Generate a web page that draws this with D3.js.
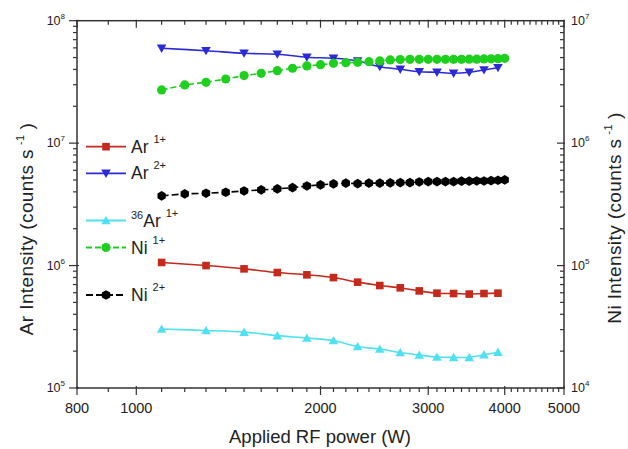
<!DOCTYPE html>
<html><head><meta charset="utf-8">
<script src="https://cdn.jsdelivr.net/npm/d3@7"></script>
<style>
html,body{margin:0;padding:0;background:#fff;}
svg{display:block;font-family:"Liberation Sans",Arial,sans-serif;}
</style></head>
<body><svg id="c" width="628" height="449"></svg>
<script>
// ---- data ----
const arPower = [1100,1300,1500,1700,1900,2100,2300,2500,2700,2900,3100,3300,3500,3700,3900];
const niPower = [1100,1200,1300,1400,1500,1600,1700,1800,1900,2000,2100,2200,2300,2400,2500,2600,2700,2800,2900,3000,3100,3200,3300,3400,3500,3600,3700,3800,3900,4000];
const ar1 = [1.06e6,1.0e6,9.4e5,8.77e5,8.4e5,7.98e5,7.32e5,6.87e5,6.58e5,6.21e5,5.95e5,5.91e5,5.85e5,5.91e5,5.95e5];
const ar2 = [5.95e7,5.69e7,5.42e7,5.32e7,5.03e7,4.93e7,4.69e7,4.21e7,4.01e7,3.83e7,3.79e7,3.72e7,3.79e7,3.96e7,4.13e7];
const ar36 = [3.03e5,2.95e5,2.86e5,2.68e5,2.56e5,2.44e5,2.18e5,2.08e5,1.95e5,1.86e5,1.79e5,1.78e5,1.78e5,1.87e5,1.96e5];
const ni1 = [2.72e6,2.99e6,3.14e6,3.34e6,3.56e6,3.72e6,3.91e6,4.09e6,4.27e6,4.37e6,4.49e6,4.54e6,4.57e6,4.63e6,4.69e6,4.78e6,4.81e6,4.84e6,4.84e6,4.84e6,4.84e6,4.84e6,4.84e6,4.84e6,4.85e6,4.85e6,4.87e6,4.88e6,4.90e6,4.93e6];
const ni2 = [3.71e5,3.85e5,3.90e5,3.97e5,4.07e5,4.15e5,4.23e5,4.33e5,4.47e5,4.56e5,4.65e5,4.71e5,4.67e5,4.71e5,4.71e5,4.74e5,4.76e5,4.76e5,4.82e5,4.85e5,4.85e5,4.85e5,4.85e5,4.89e5,4.89e5,4.91e5,4.91e5,4.94e5,4.97e5,5.01e5];
const xMajor = [800,1000,2000,3000,4000,5000];
const xMinor = [900,1100,1200,1300,1400,1500,1600,1700,1800,1900,2100,2200,2300,2400,2500,2600,2700,2800,2900,3100,3200,3300,3400,3500,3600,3700,3800,3900,4100,4200,4300,4400,4500,4600,4700,4800,4900];
const yLeftMajor = [1e5,1e6,1e7,1e8];
const yRightMajor = [1e4,1e5,1e6,1e7];

const series = [
  {name:"Ar", pre:"", sup:"1+", x:arPower, y:ar1, axis:"L", color:"#c42a1c", sym:"square", dash:null, smooth:true},
  {name:"Ar", pre:"", sup:"2+", x:arPower, y:ar2, axis:"L", color:"#2b2bd6", sym:"tdown", dash:null, smooth:true},
  {name:"Ar", pre:"36", sup:"1+", x:arPower, y:ar36, axis:"L", color:"#4fe0f2", sym:"tup", dash:null, smooth:true},
  {name:"Ni", pre:"", sup:"1+", x:niPower, y:ni1, axis:"R", color:"#1ecf1e", sym:"circle", dash:"6,3", smooth:false},
  {name:"Ni", pre:"", sup:"2+", x:niPower, y:ni2, axis:"R", color:"#000000", sym:"hex", dash:"7,3", smooth:false}
];

// ---- layout ----
const L=77, R=564, T=20.7, B=388;
const svg = d3.select("#c");
const x = d3.scaleLog().domain([800,5000]).range([L,R]);
const yL = d3.scaleLog().domain([1e5,1e8]).range([B,T]);
const yR = d3.scaleLog().domain([1e4,1e7]).range([B,T]);
const axisColor="#333";

function minorsFor(dom){
  const out=[];
  const lo=Math.log10(dom[0]), hi=Math.log10(dom[1]);
  for(let e=lo;e<hi;e++) for(let m=2;m<=9;m++) out.push(m*Math.pow(10,e));
  return out;
}

// frame
svg.append("rect").attr("x",L).attr("y",T).attr("width",R-L).attr("height",B-T)
  .attr("fill","none").attr("stroke",axisColor).attr("stroke-width",1.5);

const g = svg.append("g").attr("stroke",axisColor).attr("stroke-width",1.2);
xMajor.forEach(v=>g.append("line").attr("x1",x(v)).attr("x2",x(v)).attr("y1",B-2).attr("y2",B+7));
xMinor.forEach(v=>g.append("line").attr("x1",x(v)).attr("x2",x(v)).attr("y1",B).attr("y2",B+4));
xMajor.forEach(v=>g.append("line").attr("x1",x(v)).attr("x2",x(v)).attr("y1",T-1).attr("y2",T+7));
xMinor.forEach(v=>g.append("line").attr("x1",x(v)).attr("x2",x(v)).attr("y1",T).attr("y2",T+4));
yLeftMajor.forEach(v=>g.append("line").attr("x1",L-8).attr("x2",L+2).attr("y1",yL(v)).attr("y2",yL(v)));
minorsFor(yL.domain()).forEach(v=>g.append("line").attr("x1",L-4).attr("x2",L).attr("y1",yL(v)).attr("y2",yL(v)));
yRightMajor.forEach(v=>g.append("line").attr("x1",R-7).attr("x2",R+1).attr("y1",yR(v)).attr("y2",yR(v)));
minorsFor(yR.domain()).forEach(v=>g.append("line").attr("x1",R-4).attr("x2",R).attr("y1",yR(v)).attr("y2",yR(v)));

// tick labels
const tl = svg.append("g").attr("fill","#222");
xMajor.forEach(v=>tl.append("text").attr("x",x(v)).attr("y",413).attr("text-anchor","middle")
  .attr("font-size",14.5).text(v));
function powLabel(parent, xx, yy, exp, anchor){
  const t=parent.append("text").attr("x",xx).attr("y",yy).attr("text-anchor",anchor).attr("font-size",12.5);
  t.append("tspan").text("10");
  t.append("tspan").attr("dy",-6).attr("font-size",8).text(exp);
}
yLeftMajor.forEach(v=>powLabel(tl, 65, yL(v)+4, Math.round(Math.log10(v)), "end"));
yRightMajor.forEach(v=>powLabel(tl, 571, yR(v)+4, Math.round(Math.log10(v)), "start"));

// axis titles
svg.append("text").attr("x",320).attr("y",443).attr("text-anchor","middle").attr("font-size",18.5).attr("fill","#222")
  .text("Applied RF power (W)");
function yTitle(cx, cy, label){
  const t=svg.append("text").attr("transform",`translate(${cx},${cy}) rotate(-90)`).attr("text-anchor","middle")
    .attr("font-size",19).attr("letter-spacing",0.4).attr("fill","#222");
  t.append("tspan").text(label+" (counts s");
  t.append("tspan").attr("dy",-9).attr("dx",4).attr("font-size",11).text("-1");
  t.append("tspan").attr("dy",9).attr("dx",5).text(")");
}
yTitle(33, 229, "Ar Intensity");
yTitle(621, 218, "Ni Intensity");

// symbols
function drawSym(parent, sym, cx, cy, color){
  let p;
  if(sym==="square") p=parent.append("rect").attr("x",cx-3.8).attr("y",cy-3.8).attr("width",7.6).attr("height",7.6);
  else if(sym==="circle") p=parent.append("circle").attr("cx",cx).attr("cy",cy).attr("r",4.6);
  else if(sym==="tdown") p=parent.append("path").attr("d",`M${cx-4.8},${cy-3.8}L${cx+4.8},${cy-3.8}L${cx},${cy+4.6}Z`);
  else if(sym==="tup") p=parent.append("path").attr("d",`M${cx-4.8},${cy+3.8}L${cx+4.8},${cy+3.8}L${cx},${cy-4.6}Z`);
  else if(sym==="hex"){
    const r=4.8, pts=d3.range(6).map(i=>{const a=Math.PI/3*i+Math.PI/6;return [cx+r*Math.cos(a),cy+r*Math.sin(a)];});
    p=parent.append("path").attr("d","M"+pts.map(q=>q.join(",")).join("L")+"Z");
  }
  p.attr("fill",color).attr("stroke","none");
}

const plot = svg.append("g");
series.forEach(s=>{
  const ys = s.axis==="L"?yL:yR;
  const pts = s.x.map((v,i)=>[x(v), ys(s.y[i])]);
  const line = d3.line().curve(s.smooth?d3.curveCatmullRom:d3.curveLinear);
  plot.append("path").attr("d",line(pts)).attr("fill","none").attr("stroke",s.color)
    .attr("stroke-width",1.6).attr("stroke-dasharray",s.dash);
  pts.forEach(p=>drawSym(plot, s.sym, p[0], p[1], s.color));
});

// legend
const legY = [146.7,173.3,220.5,247.5,295];
const lg = svg.append("g");
series.forEach((s,i)=>{
  const yy=legY[i];
  lg.append("line").attr("x1",86).attr("x2",126).attr("y1",yy).attr("y2",yy).attr("stroke",s.color)
    .attr("stroke-width",1.8).attr("stroke-dasharray",s.dash);
  drawSym(lg, s.sym, 106, yy, s.color);
  const t=lg.append("text").attr("x",131).attr("y",yy+6).attr("font-size",17.5).attr("fill","#222");
  if(s.pre){ t.append("tspan").attr("font-size",11).attr("dy",-8).text(s.pre); t.append("tspan").attr("dy",8).text(s.name); }
  else t.append("tspan").text(s.name);
  t.append("tspan").attr("font-size",11).attr("dy",-10).attr("dx",5).text(s.sup);
});
</script></body></html>
